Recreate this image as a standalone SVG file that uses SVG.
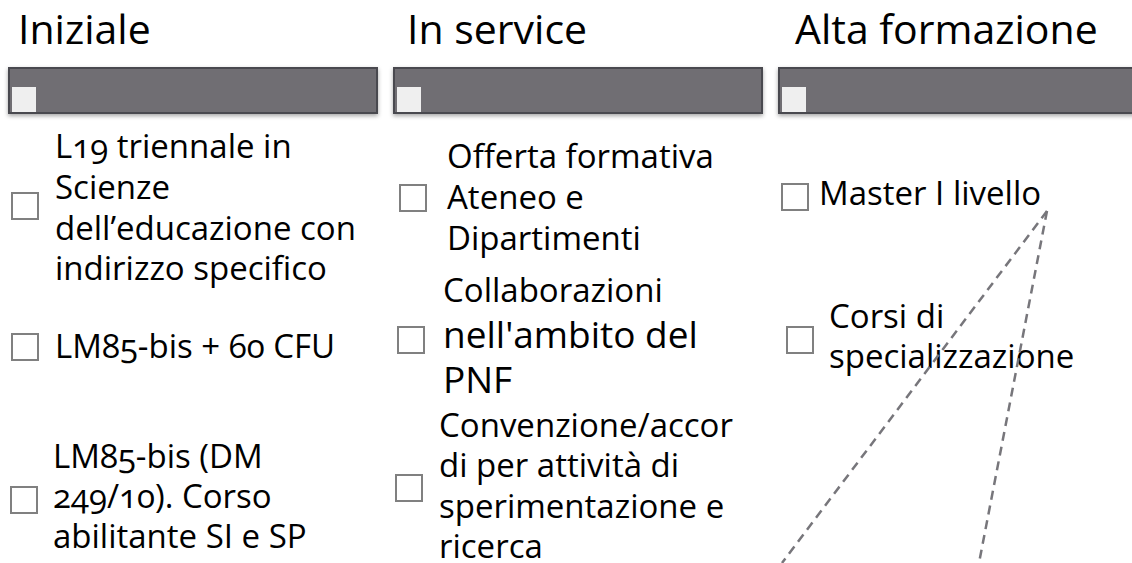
<svg xmlns="http://www.w3.org/2000/svg" width="1132" height="563" viewBox="0 0 1132 563">
<style>
.title{font-family:"Open Sans","Liberation Sans",sans-serif;font-size:41px;fill:#000}
.t{font-family:"Open Sans","Liberation Sans",sans-serif;font-size:33px;fill:#000;font-variant-numeric:oldstyle-nums}
.big{font-size:37px}
.bar{fill:#6f6e73;stroke:#4a494f;stroke-width:2}
.sq{fill:#efefef}
.cb{fill:#fff;stroke:#808080;stroke-width:2}
.dash{fill:none;stroke:#77767b;stroke-width:2.5;stroke-dasharray:9 6}
</style>
<defs>
<filter id="sh" x="-5%" y="-30%" width="110%" height="170%">
<feDropShadow dx="0" dy="2" stdDeviation="2" flood-color="#000" flood-opacity="0.35"/>
</filter>
</defs>
<rect width="1132" height="563" fill="#fff"/>
<g id="col-iniziale">
<text class="title" x="18" y="44">Iniziale</text>
<rect class="bar" x="9" y="68" width="368" height="45" filter="url(#sh)"/>
<rect class="sq" x="12" y="87" width="24" height="25"/>
</g>
<g id="col-inservice">
<text class="title" x="407" y="44">In service</text>
<rect class="bar" x="394" y="68" width="368" height="45" filter="url(#sh)"/>
<rect class="sq" x="397" y="87" width="24" height="25"/>
</g>
<g id="col-alta">
<text class="title" x="795" y="44">Alta formazione</text>
<rect class="bar" x="779" y="68" width="362" height="45" filter="url(#sh)"/>
<rect class="sq" x="782" y="87" width="24" height="25"/>
</g>
<g id="item-l19">
<rect class="cb" x="12" y="193" width="26" height="26"/>
<text class="t" x="55" y="158">L19 triennale in</text>
<text class="t" x="55" y="199">Scienze</text>
<text class="t" x="55" y="240">dell’educazione con</text>
<text class="t" x="55" y="280">indirizzo specifico</text>
</g>
<g id="item-lm85-60">
<rect class="cb" x="12" y="334" width="26" height="26"/>
<text class="t" x="55" y="358">LM85-bis + 60 CFU</text>
</g>
<g id="item-lm85-dm">
<rect class="cb" x="11" y="487" width="26" height="26"/>
<text class="t" x="53" y="468">LM85-bis (DM</text>
<text class="t" x="53" y="508">249/10). Corso</text>
<text class="t" x="53" y="548">abilitante SI e SP</text>
</g>
<g id="item-offerta">
<rect class="cb" x="400" y="185" width="26" height="26"/>
<text class="t" x="447" y="168">Offerta formativa</text>
<text class="t" x="447" y="209">Ateneo e</text>
<text class="t" x="447" y="250">Dipartimenti</text>
</g>
<g id="item-pnf">
<rect class="cb" x="398" y="327" width="26" height="26"/>
<text class="t" x="443" y="302">Collaborazioni</text>
<text class="t big" x="443" y="348">nell'ambito del</text>
<text class="t big" x="443" y="393">PNF</text>
</g>
<g id="item-convenzione">
<rect class="cb" x="396" y="475" width="26" height="26"/>
<text class="t" x="439" y="437">Convenzione/accor</text>
<text class="t" x="439" y="477">di per attività di</text>
<text class="t" x="439" y="518">sperimentazione e</text>
<text class="t" x="439" y="558">ricerca</text>
</g>
<g id="item-master">
<rect class="cb" x="782" y="184" width="26" height="26"/>
<text class="t" x="819" y="205">Master I livello</text>
</g>
<g id="item-specializzazione">
<rect class="cb" x="787" y="327" width="26" height="26"/>
<text class="t" x="829" y="328">Corsi di</text>
<text class="t" x="829" y="368">specializzazione</text>
</g>
<g id="connectors">
<line class="dash" x1="1047" y1="211" x2="782" y2="563"/>
<line class="dash" x1="1047" y1="211" x2="979" y2="563"/>
</g>
</svg>
